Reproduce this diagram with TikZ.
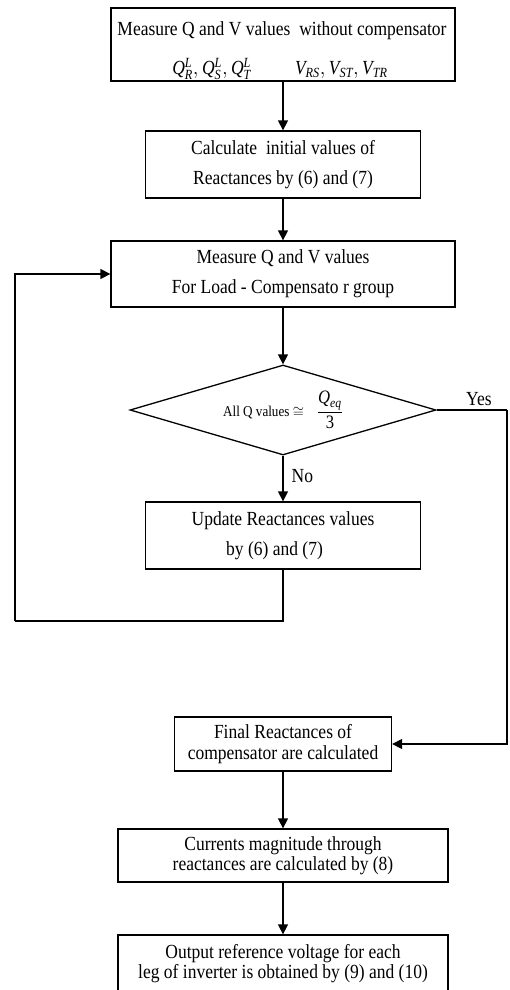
\documentclass[tikz,border=0pt]{standalone}
\usepackage{amsmath}
\usepackage{fontspec}
\setmainfont[FakeStretch=0.875]{Liberation Serif}
\usetikzlibrary{arrows.meta,shapes.geometric}
\newcommand{\bodyfont}{\fontsize{20}{30}\selectfont}
\newcommand{\tightfont}{\fontsize{20}{20.5}\selectfont}
\newcommand{\mi}[1]{\textit{#1}}
\begin{document}
\begin{tikzpicture}[x=1pt,y=-1pt,
  box/.style={draw, line width=1.3pt, inner sep=0pt, align=center, font=\bodyfont},
  tbox/.style={box, font=\tightfont},
  arr/.style={-{Triangle[length=10pt,width=10pt]}, line width=1.3pt},
  ln/.style={line width=1.3pt},
  lbl/.style={inner sep=0pt, font=\bodyfont}]
\useasboundingbox (0,0) rectangle (509,990);
% boxes
\node[box, minimum width=344pt, minimum height=73pt] (b1) at (283,44.5) {};
\node[lbl] (b1t1) at (282,31) {Measure Q and V values\ \ without compensator};
\node[lbl] (b1t2) at (280,69) {$\mi{Q}^{\mi{L}}_{\mi{R}}, \mi{Q}^{\mi{L}}_{\mi{S}}, \mi{Q}^{\mi{L}}_{\mi{T}}$\hspace{44pt}$\mi{V}_{\mi{RS}}, \mi{V}_{\mi{ST}}, \mi{V}_{\mi{TR}}$};
\node[box, minimum width=275pt, minimum height=67pt] (b2) at (283,164.5) {Calculate\ \ initial values of\\ Reactances by (6) and (7)};
\node[box, minimum width=344pt, minimum height=66pt] (b3) at (283,274) {Measure Q and V values\\ For Load - Compensato r group};
\node[draw, diamond, line width=1.3pt, inner sep=0pt, aspect=3.4, minimum width=306pt, minimum height=90pt] (d) at (283,410)
  {{\fontsize{15}{16}\selectfont All Q values $\cong$}\hspace{13pt}{\fontsize{19}{20}\selectfont$\dfrac{\mi{Q}_{\mi{eq}}}{\textrm{3}}$}};
\node[box, minimum width=275pt, minimum height=67pt] (b4) at (283,535.5) {Update Reactances values\\ by (6) and (7)\hspace*{17pt}};
\node[tbox, minimum width=217pt, minimum height=54pt] (b6) at (283,744) {Final Reactances of\\ compensator are calculated};
\node[tbox, minimum width=330pt, minimum height=53pt] (b7) at (283,855.5) {Currents magnitude through\\ reactances are calculated by (8)};
\node[tbox, minimum width=330pt, minimum height=57pt] (b8) at (283,963.5) {Output reference voltage for each\\ leg of inverter is obtained by (9) and (10)};
% coordinates
\coordinate (lp) at (15,621);
\coordinate (yr) at (507,410);
% connectors
\draw[arr] (b1.south) -- (b2.north);
\draw[arr] (b2.south) -- (b3.north);
\draw[arr] (b3.south) -- (d.north);
\draw[arr] (d.south) -- node[lbl, right=8pt, pos=0.45] (no) {No} (b4.north);
\draw[ln] (b4.south) |- (lp);
\draw[arr] (lp) |- (b3.west);
\draw[ln] (d.east) -- node[lbl, above=4pt, pos=0.6] (yes) {Yes} (yr);
\draw[arr] (yr) |- (b6.east);
\draw[arr] (b6.south) -- (b7.north);
\draw[arr] (b7.south) -- (b8.north);
\end{tikzpicture}
\end{document}
